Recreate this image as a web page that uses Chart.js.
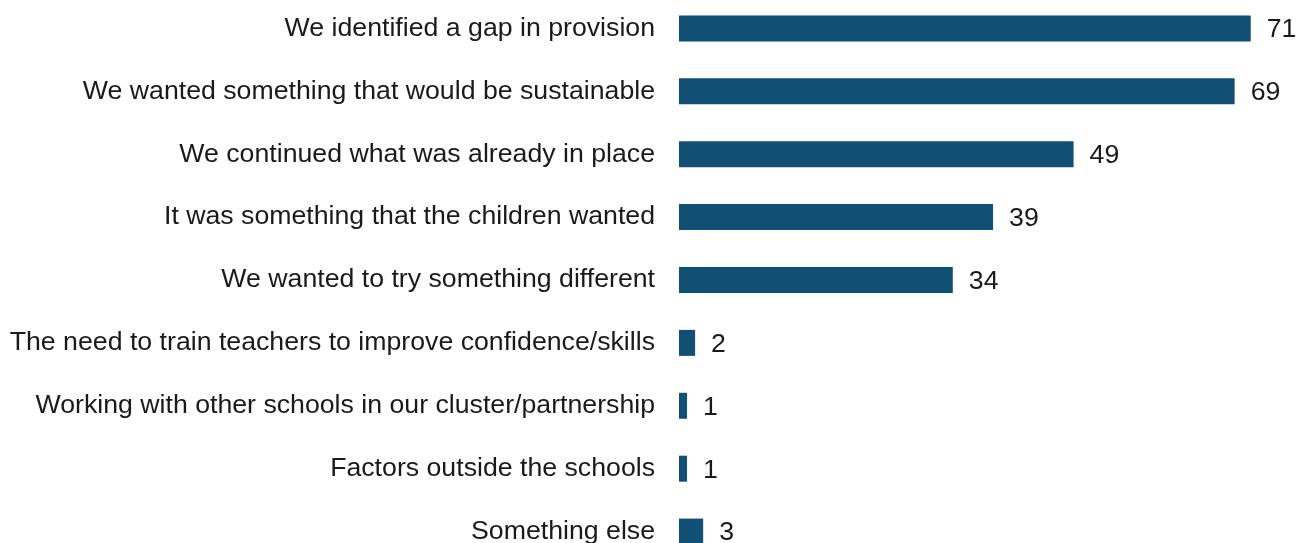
<!DOCTYPE html>
<html>
<head>
<meta charset="utf-8">
<script src="https://cdn.jsdelivr.net/npm/chart.js@4.4.0/dist/chart.umd.min.js"></script>
<style>
  html, body { margin: 0; padding: 0; background: #fff; overflow: hidden; }
  body { width: 1301px; height: 543px; position: relative; }
  #wrap { position: absolute; left: 0; top: -3.5px; width: 1301px; height: 566px; }
</style>
</head>
<body>
<div id="wrap"><canvas id="reasonsChart"></canvas></div>
<script>
// Motivos indicados pelas escolas
const reasons = [
  "We identified a gap in provision",
  "We wanted something that would be sustainable",
  "We continued what was already in place",
  "It was something that the children wanted",
  "We wanted to try something different",
  "The need to train teachers to improve confidence/skills",
  "Working with other schools in our cluster/partnership",
  "Factors outside the schools",
  "Something else",
]
const responses = [71, 69, 49, 39, 34, 2, 1, 1, 3]

const FONT = "'Liberation Sans', Arial, sans-serif"

// Escrever o valor à direita de cada barra
const valueLabels = {
  id: "valueLabels",
  afterDatasetsDraw(chart) {
    const ctx = chart.ctx
    const meta = chart.getDatasetMeta(0)
    ctx.save()
    ctx.font = "26.7px " + FONT
    ctx.fillStyle = "#1a1a1a"
    ctx.textAlign = "left"
    ctx.textBaseline = "middle"
    meta.data.forEach((bar, i) => {
      ctx.fillText(String(responses[i]), bar.x + 16, bar.y + 1.5)
    })
    ctx.restore()
  },
}

const ctx = document.getElementById("reasonsChart").getContext("2d")
new Chart(ctx, {
  type: "bar",
  data: {
    labels: reasons,
    datasets: [
      {
        data: responses,
        backgroundColor: "#114f75",
        borderWidth: 0,
        barPercentage: 0.413,
        categoryPercentage: 1,
      },
    ],
  },
  plugins: [valueLabels],
  options: {
    indexAxis: "y",
    responsive: true,
    maintainAspectRatio: false,
    animation: false,
    layout: { padding: { left: 0, right: 10, top: 0, bottom: 0 } },
    plugins: {
      legend: { display: false },
      tooltip: { enabled: false },
    },
    scales: {
      x: {
        display: false,
        min: 0,
        max: 76,
      },
      y: {
        afterFit: (scale) => {
          // largura fixa para o eixo e sem folga em cima/baixo
          scale.width = 679
          scale.paddingTop = 0
          scale.paddingBottom = 0
        },
        border: { display: false },
        grid: { display: false, drawTicks: false },
        ticks: {
          padding: 24,
          color: "#1a1a1a",
          font: { family: FONT, size: 26.7 },
        },
      },
    },
  },
})
</script>
</body>
</html>
